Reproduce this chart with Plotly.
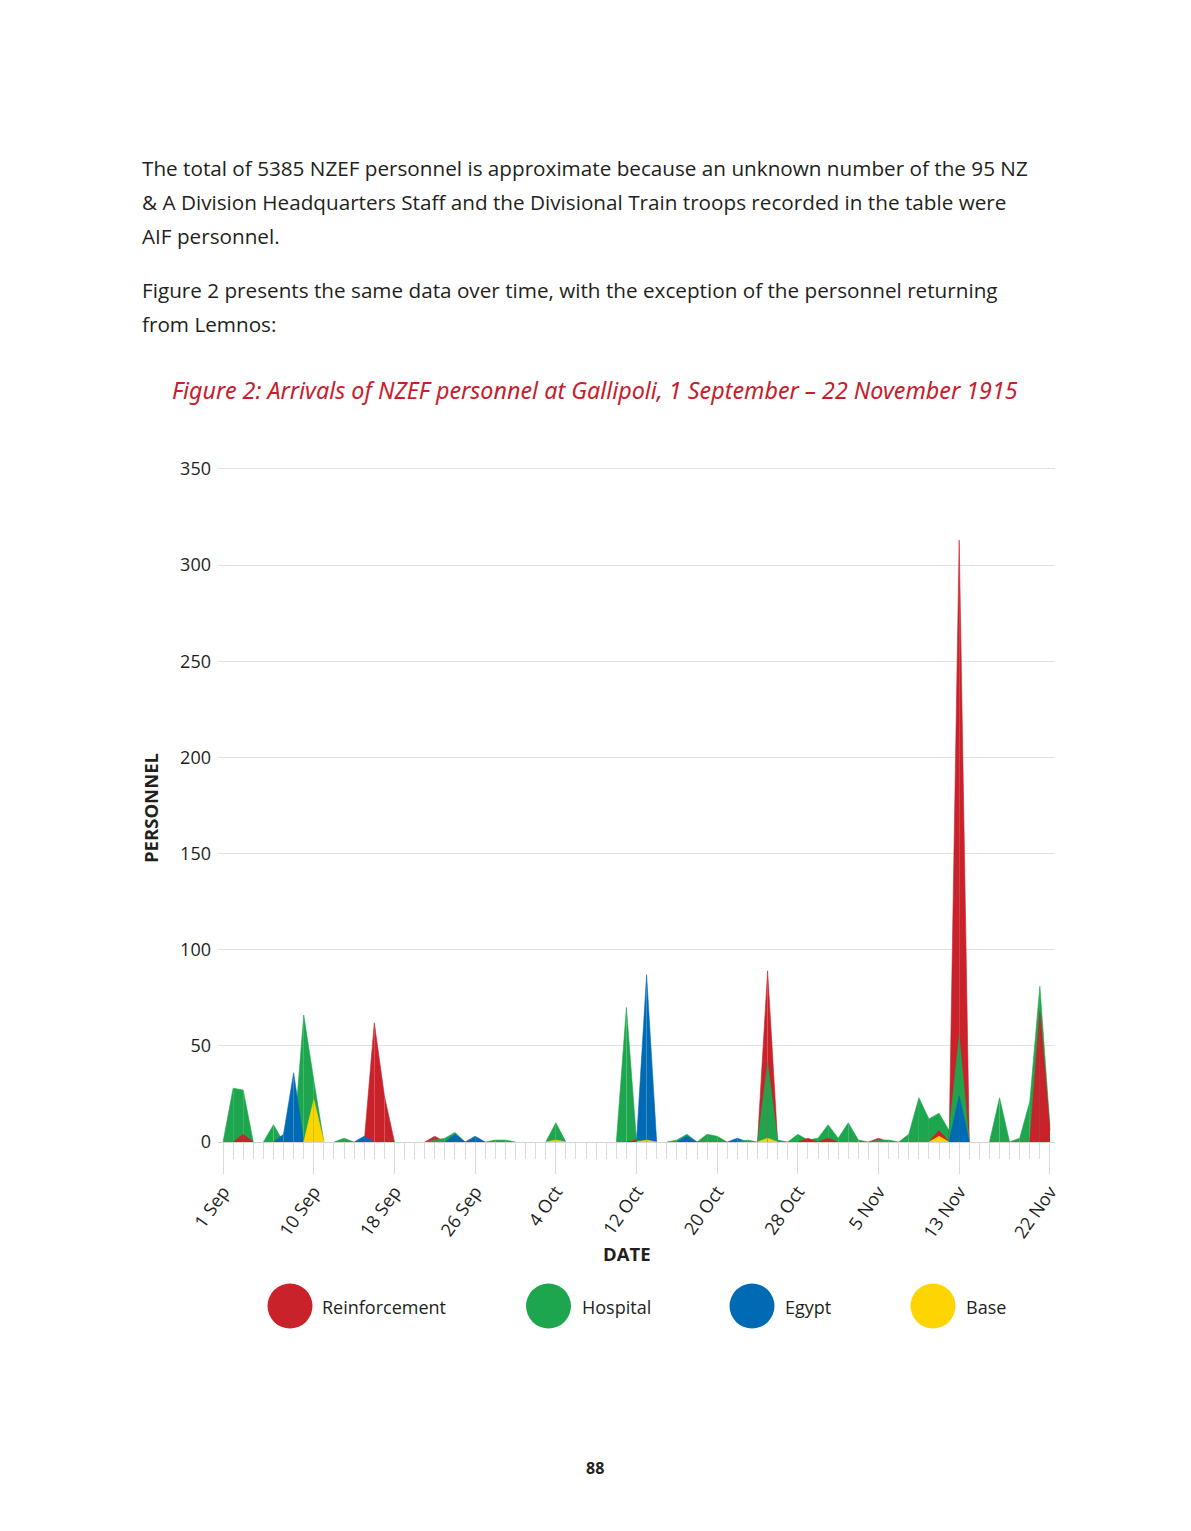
import pandas as pd
import plotly.graph_objects as go

# ---------------- data ----------------
dates = pd.date_range("1915-09-01", "1915-11-22", freq="D")

reinforcement = [0, 0, 4, 0, 0, 0, 0, 0, 0, 0,
                 0, 0, 0, 0, 0, 62, 24, 0, 0, 0,
                 0, 3, 0, 0, 0, 0, 0, 0, 0, 0,
                 0, 0, 0, 0, 0, 0, 0, 0, 0, 0,
                 0, 1, 0, 0, 0, 0, 0, 0, 0, 0,
                 0, 0, 0, 0, 89, 0, 0, 0, 2, 0,
                 2, 0, 0, 0, 0, 2, 0, 0, 0, 0,
                 0, 6, 0, 313, 0, 0, 0, 0, 0, 0,
                 0, 68, 6]
hospital = [0, 28, 27, 0, 0, 9, 0, 0, 66, 32,
            0, 0, 2, 0, 0, 0, 0, 0, 0, 0,
            0, 1, 2, 5, 0, 0, 0, 1, 1, 0,
            0, 0, 0, 10, 0, 0, 0, 0, 0, 0,
            70, 1, 0, 0, 0, 1, 4, 0, 4, 3,
            0, 0, 1, 0, 41, 1, 0, 4, 1, 2,
            9, 2, 10, 1, 0, 1, 1, 0, 4, 23,
            12, 15, 6, 55, 0, 0, 0, 23, 0, 2,
            21, 81, 8]
egypt = [0, 0, 0, 0, 0, 0, 4, 36, 0, 0,
         0, 0, 0, 0, 3, 0, 0, 0, 0, 0,
         0, 0, 0, 4, 0, 3, 0, 0, 0, 0,
         0, 0, 0, 0, 0, 0, 0, 0, 0, 0,
         0, 0, 87, 0, 0, 0, 3, 0, 0, 0,
         0, 2, 0, 0, 0, 0, 0, 0, 0, 0,
         0, 0, 0, 0, 0, 0, 0, 0, 0, 0,
         0, 0, 0, 24, 0, 0, 0, 0, 0, 0,
         0, 0, 0]
base = [0, 0, 0, 0, 0, 0, 0, 0, 0, 22,
        0, 0, 0, 0, 0, 0, 0, 0, 0, 0,
        0, 0, 0, 0, 0, 0, 0, 0, 0, 0,
        0, 0, 0, 1, 0, 0, 0, 0, 0, 0,
        0, 0, 1, 0, 0, 0, 0, 0, 0, 0,
        0, 0, 0, 0, 2, 0, 0, 0, 0, 0,
        0, 0, 0, 0, 0, 0, 0, 0, 0, 0,
        0, 3, 0, 0, 0, 0, 0, 0, 0, 0,
        0, 0, 0]

series_names = ["Reinforcement", "Hospital", "Egypt", "Base"]
series_values = [reinforcement, hospital, egypt, base]
series_colors = ["#C9222A", "#1DA64D", "#006AB4", "#FFD500"]

tick_dates = ["1915-09-01", "1915-09-10", "1915-09-18", "1915-09-26", "1915-10-04",
              "1915-10-12", "1915-10-20", "1915-10-28", "1915-11-05", "1915-11-13",
              "1915-11-22"]
tick_labels = ["1 Sep", "10 Sep", "18 Sep", "26 Sep", "4 Oct", "12 Oct", "20 Oct",
               "28 Oct", "5 Nov", "13 Nov", "22 Nov"]
y_ticks = [0, 50, 100, 150, 200, 250, 300, 350]

# ---------------- layout geometry ----------------
W, H = 1191, 1531
L, R, T, B = 218, 1055, 467, 1142
Y_MAX = 351
FONT = "Open Sans"
TXT = "#231F20"


def px(x):
    return (x - L) / (R - L)


def py(y):
    return (B - y) / (B - T)


fig = go.Figure()

# overlapping areas: in each day interval, the larger series is drawn behind
for i in range(len(dates) - 1):
    segs = []
    for k, vals in enumerate(series_values):
        a, b = vals[i], vals[i + 1]
        if a or b:
            segs.append((a + b, k, a, b))
    segs.sort(key=lambda s: (-s[0], s[1]))
    for _, k, a, b in segs:
        fig.add_trace(go.Scatter(
            x=[dates[i], dates[i + 1]], y=[a, b],
            mode="lines", fill="tozeroy",
            line=dict(width=0.6, color=series_colors[k]),
            fillcolor=series_colors[k],
            showlegend=False, hoverinfo="skip"))

fig.update_layout(
    width=W, height=H,
    margin=dict(l=L, r=W - R, t=T, b=H - B, pad=0),
    paper_bgcolor="white", plot_bgcolor="white",
    font=dict(family=FONT, color=TXT),
    showlegend=False,
)

fig.update_xaxes(
    type="date",
    range=["1915-08-31 12:00", "1915-11-22 12:00"],
    tickmode="array", tickvals=tick_dates, ticktext=tick_labels,
    tickangle=-55, tickfont=dict(size=18, color=TXT, family=FONT),
    ticks="outside", ticklen=31, tickcolor="#DADADA", tickwidth=1,
    minor=dict(dtick=86400000, tick0="1915-09-01", ticks="outside",
               ticklen=16, tickcolor="#DADADA", tickwidth=1, showgrid=False),
    showgrid=False, showline=True, linecolor="#D4D4D4", linewidth=1,
    zeroline=False,
)
fig.update_yaxes(
    range=[0, Y_MAX], tickmode="array", tickvals=y_ticks,
    tickfont=dict(size=18, color=TXT, family=FONT),
    showgrid=True, gridcolor="#E2E2E2", gridwidth=1,
    zeroline=False, ticks="", showline=False, ticklabelstandoff=6,
)

ann = []


def text(x, y, s, size=20, color=TXT, anchor="left", family=FONT, **kw):
    ann.append(dict(x=px(x), y=py(y), xref="paper", yref="paper", text=s,
                    showarrow=False, xanchor=anchor, yanchor="middle",
                    font=dict(size=size, color=color, family=family), **kw))


body = [
    (168, "The total of 5385 NZEF personnel is approximate because an unknown number of the 95 NZ"),
    (202, "&amp; A Division Headquarters Staff and the Divisional Train troops recorded in the table were"),
    (236, "AIF personnel."),
    (290, "Figure 2 presents the same data over time, with the exception of the personnel returning"),
    (324, "from Lemnos:"),
]
for y, s in body:
    text(140, y, s, size=20.7)

text(595, 390, "<i>Figure 2: Arrivals of NZEF personnel at Gallipoli, 1 September – 22 November 1915</i>",
     size=23.3, color="#C8202A", anchor="center", family="Noto Sans")

text(150, 808, "<b>PERSONNEL</b>", size=18.5, anchor="center", textangle=-90)
text(627, 1253, "<b>DATE</b>", size=18.5, anchor="center")
text(595, 1468, "<b>88</b>", size=16, anchor="center")

legend_pos = [(290, 320), (548.5, 580), (752, 783), (933, 964)]
shapes = []
r = 22.5
for (cx, tx), name, col in zip(legend_pos, series_names, series_colors):
    shapes.append(dict(type="circle", xref="paper", yref="paper",
                       x0=px(cx - r), x1=px(cx + r), y0=py(1306 + r), y1=py(1306 - r),
                       fillcolor=col, line=dict(width=0)))
    text(tx, 1307, name, size=18)

fig.update_layout(annotations=ann, shapes=shapes)
fig.write_html("out.html")
